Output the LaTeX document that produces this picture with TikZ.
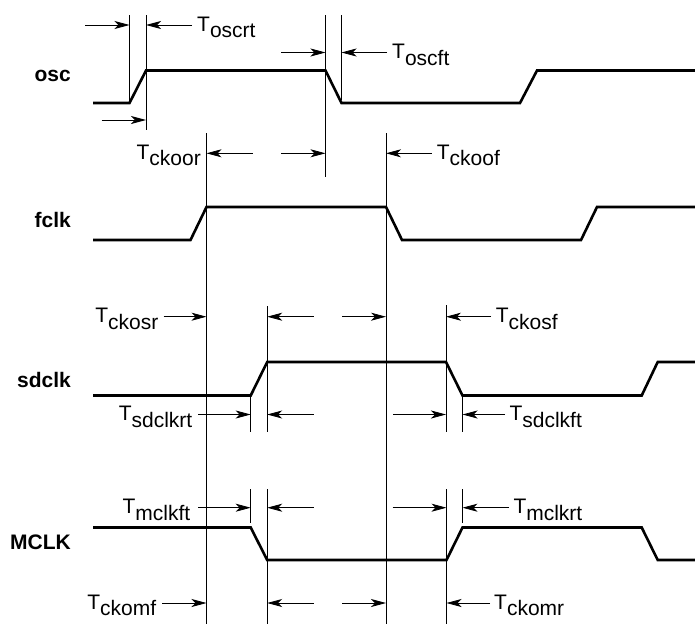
\documentclass[tikz,border=0pt]{standalone}
\usepackage{fontspec}
\setmainfont{Liberation Sans}
\usetikzlibrary{arrows.meta}
\newcommand{\tsub}[1]{T\raisebox{-6.5pt}{#1}}
\begin{document}
\begin{tikzpicture}[x=1pt,y=-1pt,
  sig/.style={line width=2.6pt, line join=miter},
  guide/.style={line width=0.8pt},
  dim/.style={line width=0.8pt, -{Stealth[length=15pt,width=8pt,inset=4pt]}},
  tlab/.style={inner sep=0pt, font=\fontsize{21}{25}\selectfont},
  tlabr/.style={tlab, anchor=base east},
  tlabl/.style={tlab, anchor=base west},
  sname/.style={inner sep=0pt, anchor=base east, font=\fontsize{21}{25}\selectfont\bfseries}]
\useasboundingbox (0,0) rectangle (695,624);

% signal names
\node[sname] (nosc) at (71,81.7) {osc};
\node[sname] (nfclk) at (71,227.3) {fclk};
\node[sname] (nsdclk) at (71,387.3) {sdclk};
\node[sname] (nmclk) at (71,549) {MCLK};

% waveforms
\draw[sig] (93,103) -- (129.5,103) -- (146,70.5) -- (325.5,70.5) -- (341.5,103) -- (520,103) -- (537,70.5) -- (695,70.5);
\draw[sig] (93,240) -- (190.5,240) -- (206.5,207) -- (386,207) -- (402,240) -- (581,240) -- (597,207) -- (695,207);
\draw[sig] (93,395.5) -- (250.7,395.5) -- (267.2,362) -- (446,362) -- (462.5,395.5) -- (641.7,395.5) -- (657.7,362) -- (695,362);
\draw[sig] (93,527.5) -- (250.7,527.5) -- (267.2,560) -- (446.5,560) -- (462.5,527.5) -- (641.7,527.5) -- (657.7,560) -- (695,560);

% guide lines
\draw[guide] (129.5,15) coordinate (g1t) -- (129.5,103) coordinate (g1b);
\draw[guide] (146,15) coordinate (g2t) -- (146,130) coordinate (g2b);
\draw[guide] (325.5,15) coordinate (g3t) -- (325.5,177) coordinate (g3b);
\draw[guide] (341.5,15) coordinate (g4t) -- (341.5,100) coordinate (g4b);
\draw[guide] (206.5,133) coordinate (g5t) -- (206.5,624) coordinate (g5b);
\draw[guide] (386,133) coordinate (g6t) -- (386,624) coordinate (g6b);
\draw[guide] (250.7,396) coordinate (g7t) -- (250.7,432) coordinate (g7b);
\draw[guide] (267.2,306) coordinate (g8t) -- (267.2,432) coordinate (g8b);
\draw[guide] (446,305) coordinate (g9t) -- (446,432) coordinate (g9b);
\draw[guide] (462.5,396) coordinate (g10t) -- (462.5,432) coordinate (g10b);
\draw[guide] (250.7,489.3) coordinate (g11t) -- (250.7,523.3) coordinate (g11b);
\draw[guide] (267.2,489.3) coordinate (g12t) -- (267.2,624) coordinate (g12b);
\draw[guide] (446.5,489.3) coordinate (g13t) -- (446.5,624) coordinate (g13b);
\draw[guide] (462.5,489.3) coordinate (g14t) -- (462.5,523.3) coordinate (g14b);

% osc rows
\draw[dim] (85,25) -- (g1t |- 0,25);
\draw[dim] (192,25) -- (g2t |- 0,25);
\node[tlabl] (loscrt) at (197,31) {\tsub{oscrt}};
\draw[dim] (281,52.5) -- (g3t |- 0,52.5);
\draw[dim] (387,52.5) -- (g4t |- 0,52.5);
\node[tlabl] (loscft) at (392,58.5) {\tsub{oscft}};
\draw[dim] (101.7,120) -- (g2t |- 0,120);

% fclk row
\node[tlabr] (lckoor) at (201,159.3) {\tsub{ckoor}};
\draw[dim] (252.7,153.3) -- (g5t |- 0,153.3);
\draw[dim] (281,153.3) -- (g3t |- 0,153.3);
\draw[dim] (431.7,153.3) -- (g6t |- 0,153.3);
\node[tlabl] (lckoof) at (436.7,159.3) {\tsub{ckoof}};

% sdclk rows
\node[tlabr] (lckosr) at (158.5,322.7) {\tsub{ckosr}};
\draw[dim] (163.6,316.7) -- (g5t |- 0,316.7);
\draw[dim] (313.5,316.7) -- (g8t |- 0,316.7);
\draw[dim] (342,316.7) -- (g6t |- 0,316.7);
\draw[dim] (491,316.7) -- (g9t |- 0,316.7);
\node[tlabl] (lckosf) at (495.7,322.7) {\tsub{ckosf}};

\node[tlabr] (lsdrt) at (192.5,420.5) {\tsub{sdclkrt}};
\draw[dim] (198.3,414.5) -- (g7t |- 0,414.5);
\draw[dim] (313.5,414.5) -- (g8t |- 0,414.5);
\draw[dim] (393,414.5) -- (g9t |- 0,414.5);
\draw[dim] (505,414.5) -- (g10t |- 0,414.5);
\node[tlabl] (lsdft) at (509.3,420.5) {\tsub{sdclkft}};

% MCLK rows
\node[tlabr] (lmft) at (190.5,513.7) {\tsub{mclkft}};
\draw[dim] (198.3,507.7) -- (g11t |- 0,507.7);
\draw[dim] (313.5,507.7) -- (g12t |- 0,507.7);
\draw[dim] (392.7,507.7) -- (g13t |- 0,507.7);
\draw[dim] (509,507.7) -- (g14t |- 0,507.7);
\node[tlabl] (lmrt) at (513.3,513.7) {\tsub{mclkrt}};

\node[tlabr] (lckomf) at (156.3,609) {\tsub{ckomf}};
\draw[dim] (162.3,603) -- (g5t |- 0,603);
\draw[dim] (313.5,603) -- (g12t |- 0,603);
\draw[dim] (342.3,603) -- (g6t |- 0,603);
\draw[dim] (490,603) -- (g13t |- 0,603);
\node[tlabl] (lckomr) at (494,609) {\tsub{ckomr}};
\end{tikzpicture}
\end{document}
